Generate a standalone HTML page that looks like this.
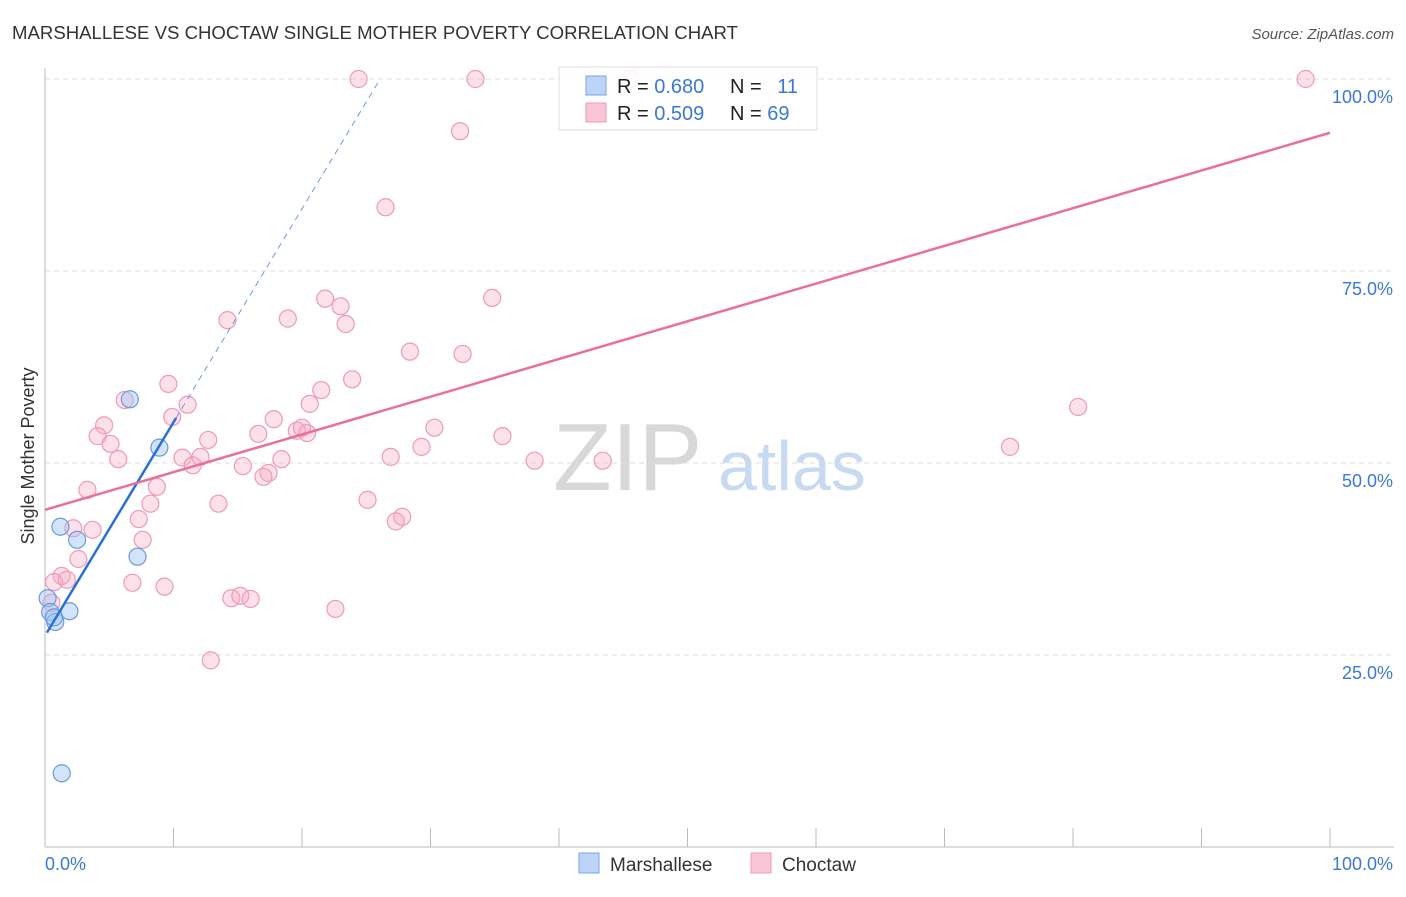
<!DOCTYPE html>
<html><head><meta charset="utf-8"><style>
body{margin:0;background:#fff;font-family:"Liberation Sans",sans-serif;}
svg text{font-family:"Liberation Sans",sans-serif;}
</style></head><body>
<svg id="chart" width="1406" height="892">
<text x="12" y="39" font-size="18.6" fill="#333">MARSHALLESE VS CHOCTAW SINGLE MOTHER POVERTY CORRELATION CHART</text>
<text x="1394" y="39" font-size="15" fill="#555" font-style="italic" text-anchor="end">Source: ZipAtlas.com</text>
<text x="34" y="456" font-size="18" fill="#333" text-anchor="middle" transform="rotate(-90 34 456)">Single Mother Poverty</text>
<text x="553" y="490" font-size="96" fill="#d8d8d8" font-family="Liberation Serif">ZIP</text>
<text x="718" y="490" font-size="70" fill="#c8daf2">atlas</text>
<g id="grid"></g><g id="axes"></g><g id="pts"></g><g id="lines"></g>
<g>
<rect x="559" y="67" width="258" height="63" fill="#fff" fill-opacity="0.88" stroke="#ddd"/>
<rect x="586" y="76" width="20" height="19" fill="#bcd4f5" stroke="#7aa5e6"/>
<rect x="586" y="103" width="20" height="19" fill="#f9c6d6" stroke="#ee9ab5"/>
<text x="617" y="93" font-size="20" fill="#222">R = <tspan fill="#3a78d8">0.680</tspan></text>
<text x="730" y="93" font-size="20" fill="#222">N = <tspan fill="#3a78d8" dx="10">11</tspan></text>
<text x="617" y="120" font-size="20" fill="#222">R = <tspan fill="#3a78d8">0.509</tspan></text>
<text x="730" y="120" font-size="20" fill="#222">N = <tspan fill="#3a78d8">69</tspan></text>
</g>
<g>
<rect x="579" y="853" width="20" height="20" fill="#bcd4f5" stroke="#7aa5e6"/>
<text x="610" y="871" font-size="19" fill="#333">Marshallese</text>
<rect x="751" y="853" width="20" height="20" fill="#f9c6d6" stroke="#ee9ab5"/>
<text x="782" y="871" font-size="19" fill="#333">Choctaw</text>
</g>
</svg>
<script>
const yTicks=[25,50,75,100];
const xTickLabels=["0.0%","100.0%"];
const mX=[0.2,0.4,0.8,0.7,1.2,1.9,2.5,6.6,7.2,8.9,1.3];
const mY=[32.4,30.6,29.3,29.9,41.7,30.7,40.0,58.3,37.8,52.0,9.6];
const cX=[24.4,33.5,45.5,98.1,32.3,26.5,34.8,21.8,23.0,23.4,14.2,18.9,28.4,32.5,23.9,21.5,9.6,6.2,4.6,9.9,11.1,17.8,20.6,4.1,5.1,12.7,16.6,19.6,20.0,20.4,30.3,35.6,29.3,5.7,10.7,11.5,12.1,15.4,18.4,26.9,38.1,43.4,75.1,80.4,3.3,8.7,17.4,17.0,8.2,13.5,25.1,7.3,27.8,27.3,2.2,3.7,7.6,2.6,1.3,0.7,1.7,6.8,9.3,14.5,15.2,16.0,22.6,0.5,12.9];
const cY=[100,100,100,100,93.2,83.3,71.5,71.4,70.4,68.1,68.6,68.8,64.5,64.2,60.9,59.5,60.3,58.2,54.9,56.0,57.6,55.7,57.7,53.5,52.5,53.0,53.8,54.2,54.6,53.9,54.6,53.5,52.1,50.5,50.7,49.7,50.8,49.6,50.5,50.8,50.3,50.3,52.1,57.3,46.5,46.9,48.7,48.2,44.7,44.7,45.2,42.7,43.0,42.4,41.5,41.3,40.0,37.5,35.3,34.5,34.8,34.4,33.9,32.4,32.7,32.3,31.0,31.8,24.3];
const mTrend=[27.5,2.78];
const cTrend=[43.9,0.491];
const NS="http://www.w3.org/2000/svg";
const sx=v=>45+v*12.85, sy=v=>847-v*7.68;
function mk(tag,attrs,parent){const e=document.createElementNS(NS,tag);for(const k in attrs)e.setAttribute(k,attrs[k]);document.getElementById(parent).appendChild(e);return e;}
yTicks.forEach(t=>{
 const l=mk('line',{x1:45,x2:1394,y1:sy(t),y2:sy(t),stroke:'#ddd','stroke-dasharray':'5,4'},'grid');
 
 
 const tx=mk('text',{x:1393,y:sy(t)+24,'font-size':18,fill:'#3a78d8','text-anchor':'end'},'grid');
 tx.textContent=t.toFixed(1)+'%';
 
 
});
mk('line',{x1:45,x2:45,y1:68,y2:847,stroke:'#bbb'},'axes');
mk('line',{x1:45,x2:1394,y1:847,y2:847,stroke:'#bbb'},'axes');
for(let i=1;i<=10;i++){mk('line',{x1:sx(i*10),x2:sx(i*10),y1:828,y2:847,stroke:'#bbb'},'axes');}
const xl=mk('text',{x:45,y:870,'font-size':18,fill:'#3a78d8'},'axes');xl.textContent=xTickLabels[0];


const xr=mk('text',{x:1393,y:870,'font-size':18,fill:'#3a78d8','text-anchor':'end'},'axes');xr.textContent=xTickLabels[1];


cX.forEach((x,i)=>{const c=mk('circle',{cx:sx(x),cy:sy(cY[i]),r:8.5,fill:'rgba(246,170,195,0.35)',stroke:'#ee9ab5','stroke-width':1.2},'pts');
 
 });
mX.forEach((x,i)=>{const c=mk('circle',{cx:sx(x),cy:sy(mY[i]),r:8.5,fill:'rgba(160,195,240,0.45)',stroke:'#6a9ae0','stroke-width':1.2},'pts');
 
 });
const x1=0.15,x2=10.2,x3=(100-mTrend[0])/mTrend[1];
const bl=mk('line',{x1:sx(x1),y1:sy(mTrend[0]+mTrend[1]*x1),x2:sx(x2),y2:sy(mTrend[0]+mTrend[1]*x2),stroke:'#2a6fd6','stroke-width':2.5},'lines');


const bd=mk('line',{x1:sx(x2),y1:sy(mTrend[0]+mTrend[1]*x2),x2:sx(x3),y2:sy(100),stroke:'#6a9ae0','stroke-width':1,'stroke-dasharray':'6,5'},'lines');


const pl=mk('line',{x1:sx(0),y1:sy(cTrend[0]),x2:sx(100),y2:sy(cTrend[0]+cTrend[1]*100),stroke:'#e8709a','stroke-width':2.5},'lines');


</script>
</body></html>
